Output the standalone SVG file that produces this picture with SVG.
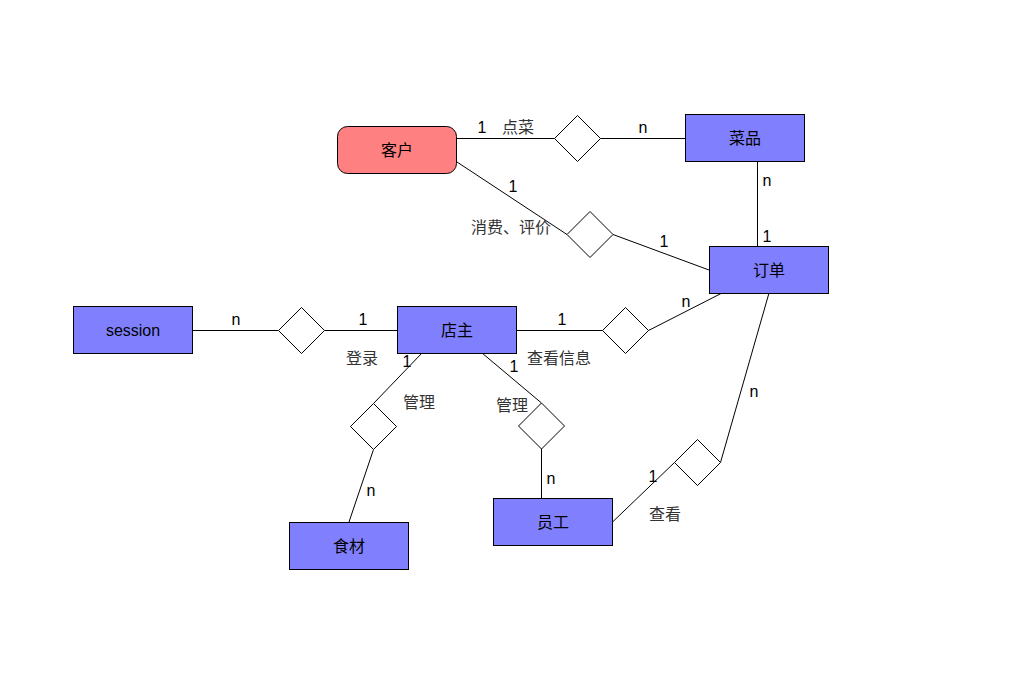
<svg xmlns="http://www.w3.org/2000/svg" width="1018" height="676" viewBox="0 0 1018 676">
<style>
.ent{fill:#8080FF;stroke:#000;stroke-width:1}
.cust{fill:#FF8080;stroke:#000;stroke-width:1}
.rel{fill:#fff;stroke:#000;stroke-width:1}
.ln{fill:none;stroke:#000;stroke-width:1}
.nt{font-family:"Liberation Sans","Noto Sans CJK SC",sans-serif;font-size:16px;fill:#000;text-anchor:middle;dominant-baseline:central}
.lb{font-family:"Liberation Sans","Noto Sans CJK SC",sans-serif;font-size:16px;fill:#000;text-anchor:middle}
.cl{font-family:"Liberation Sans","Noto Sans CJK SC",sans-serif;font-size:16px;fill:#333}
</style>
<rect width="1018" height="676" fill="#fff"/>
<g id="connectors">
<path class="ln" d="M457,138.5H554.5M600.5,138.5H685"/>
<path class="ln" d="M457,162L567,234.5M613,234.5L709,270"/>
<path class="ln" d="M757.5,161V246"/>
<path class="ln" d="M193,330.5H278.5M324.5,330.5H397"/>
<path class="ln" d="M517,330.5H602.5M648.5,330.5L722,293"/>
<path class="ln" d="M422,353L373.5,403.5M373.5,449.5L349,522"/>
<path class="ln" d="M482,353L541.5,403M541.5,449V498"/>
<path class="ln" d="M612,522.5L674.5,462.5M720.5,462.5L769,293"/>
</g>
<g id="rel-diancai"><path class="rel" d="M554.5,138.5L577.5,115.5L600.5,138.5L577.5,161.5Z"/></g>
<g id="rel-xiaofei"><path class="rel" d="M567,234.5L590,211.5L613,234.5L590,257.5Z"/></g>
<g id="rel-denglu"><path class="rel" d="M278.5,330.5L301.5,307.5L324.5,330.5L301.5,353.5Z"/></g>
<g id="rel-chakanxinxi"><path class="rel" d="M602.5,330.5L625.5,307.5L648.5,330.5L625.5,353.5Z"/></g>
<g id="rel-guanli1"><path class="rel" d="M350.5,426.5L373.5,403.5L396.5,426.5L373.5,449.5Z"/></g>
<g id="rel-guanli2"><path class="rel" d="M518.5,426L541.5,403L564.5,426L541.5,449Z"/></g>
<g id="rel-chakan"><path class="rel" d="M674.5,462.5L697.5,439.5L720.5,462.5L697.5,485.5Z"/></g>
<g id="kehu"><rect class="cust" x="337.5" y="126.5" width="119" height="47" rx="10"/><text class="nt" x="397" y="150">客户</text></g>
<g id="caipin"><rect class="ent" x="685.5" y="114.5" width="119" height="47"/><text class="nt" x="745" y="138">菜品</text></g>
<g id="dingdan"><rect class="ent" x="709.5" y="246.5" width="119" height="47"/><text class="nt" x="769" y="270">订单</text></g>
<g id="session"><rect class="ent" x="73.5" y="306.5" width="119" height="47"/><text class="nt" x="133" y="330">session</text></g>
<g id="dianzhu"><rect class="ent" x="397.5" y="306.5" width="119" height="47"/><text class="nt" x="457" y="330">店主</text></g>
<g id="shicai"><rect class="ent" x="289.5" y="522.5" width="119" height="47"/><text class="nt" x="349" y="546">食材</text></g>
<g id="yuangong"><rect class="ent" x="493.5" y="498.5" width="119" height="47"/><text class="nt" x="553" y="522">员工</text></g>
<g id="labels">
<text class="lb" x="482" y="133">1</text>
<text class="cl" x="502" y="133">点菜</text>
<text class="lb" x="643" y="133">n</text>
<text class="lb" x="767" y="186">n</text>
<text class="lb" x="767" y="242">1</text>
<text class="lb" x="513" y="192">1</text>
<text class="cl" x="471" y="233">消费、评价</text>
<text class="lb" x="664" y="247">1</text>
<text class="lb" x="236" y="325">n</text>
<text class="lb" x="363" y="325">1</text>
<text class="cl" x="346" y="364">登录</text>
<text class="lb" x="407" y="367">1</text>
<text class="lb" x="562" y="325">1</text>
<text class="cl" x="527" y="364">查看信息</text>
<text class="lb" x="686" y="307">n</text>
<text class="lb" x="514" y="372">1</text>
<text class="cl" x="403" y="408">管理</text>
<text class="cl" x="496" y="411">管理</text>
<text class="lb" x="754" y="397">n</text>
<text class="lb" x="551" y="484">n</text>
<text class="lb" x="371" y="496">n</text>
<text class="lb" x="653" y="482">1</text>
<text class="cl" x="649" y="520">查看</text>
</g>
</svg>
